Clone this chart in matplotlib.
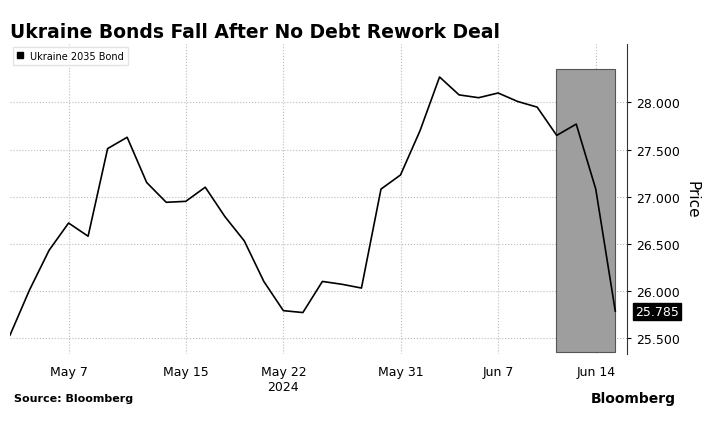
import matplotlib.pyplot as plt
import matplotlib.patches as mpatches

dates = ["May 2", "May 3", "May 6", "May 7", "May 8", "May 9", "May 10", "May 13", "May 14",
         "May 15", "May 16", "May 17", "May 20", "May 21", "May 22", "May 23", "May 24",
         "May 28", "May 29", "May 30", "May 31", "Jun 3", "Jun 4", "Jun 5", "Jun 6", "Jun 7",
         "Jun 10", "Jun 11", "Jun 12", "Jun 13", "Jun 14", "Jun 17"]
prices = [25.53, 26.01, 26.43, 26.72, 26.58, 27.51, 27.63, 27.15, 26.94, 26.95, 27.10,
          26.79, 26.53, 26.10, 25.79, 25.77, 26.10, 26.07, 26.03, 27.08, 27.23, 27.70,
          28.27, 28.08, 28.05, 28.10, 28.01, 27.95, 27.65, 27.77, 27.08, 25.785]
tick_labels = ["May 7", "May 15", "May 22", "May 31", "Jun 7", "Jun 14"]
yticks = [25.5, 26.0, 26.5, 27.0, 27.5, 28.0]

fig = plt.figure(figsize=(7.09, 4.27), dpi=100)
ax = fig.add_axes([10 / 709, 1 - 355 / 427, 617 / 709, 310 / 427])
x = list(range(len(dates)))
ax.plot(x, prices, color="black", lw=1.2, zorder=3)

# shaded highlight
i0 = dates.index("Jun 12")
ax.add_patch(mpatches.Rectangle((i0 - 0.05, 25.35), len(dates) - 1 - i0 + 0.05, 3.0,
                                facecolor="#9e9e9e", edgecolor="#555555", lw=0.8, zorder=2))

ax.set_xlim(0, len(dates) - 1 + 0.6)
ax.set_ylim(25.33, 28.62)
ax.set_xticks([dates.index(t) for t in tick_labels])
ax.set_xticklabels(tick_labels, fontsize=9)
ax.set_yticks(yticks)
ax.set_yticklabels([f"{v:.3f}" for v in yticks], fontsize=9)
ax.yaxis.tick_right()
ax.yaxis.set_label_position("right")
ax.set_ylabel("Price", fontsize=11, rotation=-90, labelpad=14)
ax.grid(True, color="#bbbbbb", ls=":", lw=0.8)
for s in ["top", "left", "bottom"]:
    ax.spines[s].set_visible(False)
ax.spines["right"].set_color("#333333")
ax.tick_params(axis="x", length=0, pad=8)
ax.tick_params(axis="y", length=3, direction="out")
ax.text(dates.index("May 22"), -0.115, "2024", transform=ax.get_xaxis_transform(),
        ha="center", fontsize=9)

# last value label
ax.annotate(f"{prices[-1]:.3f}", xy=(1.0, prices[-1]), xycoords=("axes fraction", "data"),
            xytext=(6, 0), textcoords="offset points", va="center", ha="left",
            fontsize=9, color="white",
            bbox=dict(boxstyle="square,pad=0.15", fc="black", ec="black"))

ax.legend(handles=[mpatches.Patch(color="black", label="Ukraine 2035 Bond")],
          loc="upper left", fontsize=7, handlelength=0.6, handleheight=0.6,
          frameon=True, fancybox=False, edgecolor="#dddddd", borderaxespad=0.3)

fig.text(10 / 709, 1 - 38 / 427, "Ukraine Bonds Fall After No Debt Rework Deal",
         fontsize=13.5, fontweight="bold")
fig.text(14 / 709, 1 - 402 / 427, "Source: Bloomberg", fontsize=8, fontweight="bold")
fig.text(676 / 709, 1 - 403 / 427, "Bloomberg", fontsize=10, fontweight="bold", ha="right")
fig.savefig("out.png", dpi=100)
